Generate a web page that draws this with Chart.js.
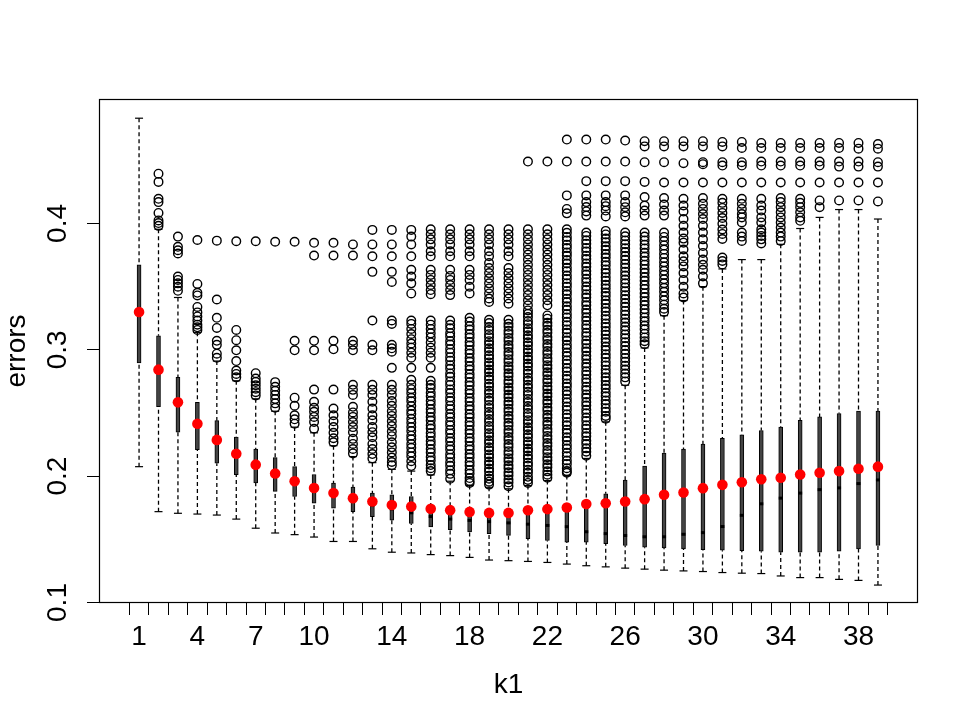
<!DOCTYPE html>
<html>
<head>
<meta charset="utf-8">
<script src="https://cdn.jsdelivr.net/npm/chart.js@4.4.1/dist/chart.umd.min.js"></script>
<style>
html,body{margin:0;padding:0;background:#fff;}
#wrap{width:969px;height:727px;position:relative;}
</style>
</head>
<body>
<div id="wrap"><canvas id="c"></canvas></div>
<script>
const categories = [1,2,3,4,5,6,7,8,9,10,11,12,13,14,15,16,17,18,19,20,21,22,23,24,25,26,27,28,29,30,31,32,33,34,35,36,37,38,39];
const xTickLabels = [1,4,7,10,14,18,22,26,30,34,38];
const yTickValues = [0.1,0.2,0.3,0.4];

const whiskerLow = [0.2075,0.1719,0.1706,0.1700,0.1692,0.1660,0.1588,0.1550,0.1537,0.1518,0.1483,0.1483,0.1425,0.1398,0.1392,0.1379,0.1371,0.1357,0.1336,0.1331,0.1325,0.1317,0.1304,0.1291,0.1282,0.1272,0.1264,0.1256,0.1250,0.1245,0.1237,0.1232,0.1229,0.1210,0.1197,0.1197,0.1183,0.1175,0.1138];
const boxLow = [0.2897,0.2549,0.2348,0.2209,0.2102,0.2011,0.1946,0.1880,0.1839,0.1786,0.1746,0.1719,0.1679,0.1652,0.1625,0.1598,0.1577,0.1558,0.1545,0.1531,0.1505,0.1491,0.1478,0.1478,0.1465,0.1451,0.1438,0.1432,0.1424,0.1418,0.1414,0.1410,0.1406,0.1398,0.1398,0.1398,0.1406,0.1424,0.1451];
const medians = [0.328,0.282,0.256,0.239,0.227,0.216,0.207,0.200,0.194,0.189,0.184,0.180,0.177,0.174,0.171,0.168,0.166,0.165,0.164,0.163,0.162,0.161,0.160,0.156,0.1545,0.153,0.152,0.152,0.154,0.1553,0.1601,0.1690,0.1781,0.1826,0.1866,0.1893,0.1907,0.1941,0.1970];
const boxHigh = [0.3673,0.3111,0.2782,0.2584,0.2439,0.2310,0.2214,0.2147,0.2075,0.2013,0.1946,0.1914,0.1866,0.1853,0.1839,0.1752,0.1745,0.1732,0.1724,0.1724,0.1745,0.1752,0.1768,0.1800,0.1861,0.1968,0.2080,0.2182,0.2214,0.2254,0.2300,0.2327,0.2361,0.2388,0.2442,0.2469,0.2495,0.2514,0.2514];
const whiskerHigh = [0.4833,0.3954,0.3414,0.3138,0.2911,0.2755,0.2612,0.2514,0.2388,0.2343,0.2241,0.2155,0.2107,0.2054,0.2040,0.2010,0.1960,0.1925,0.1912,0.1900,0.1925,0.1965,0.2005,0.2140,0.2430,0.2720,0.3015,0.3270,0.3390,0.3500,0.3640,0.3714,0.3714,0.3835,0.3960,0.4048,0.4110,0.4110,0.4035];
const means = [0.3299,0.2843,0.2584,0.2415,0.2287,0.2177,0.2091,0.2021,0.1960,0.1906,0.1866,0.1826,0.1799,0.1772,0.1759,0.1742,0.1731,0.1717,0.1709,0.1709,0.1730,0.1739,0.1752,0.1779,0.1786,0.1799,0.1818,0.1853,0.1871,0.1905,0.1931,0.1952,0.1976,0.1987,0.2013,0.2027,0.2040,0.2059,0.2075];

const outliers = [
 [],
 [0.4394,0.4329,0.4195,0.4169,0.4083,0.4024,0.4003,0.3981],
 [0.3896,0.3815,0.3788,0.3762,0.3580,0.3553,0.3526,0.3499,0.3467],
 [0.3869,0.3521,0.3451,0.3430,0.3339,0.3296,0.3264,0.3232,0.3199,0.3178,0.3157],
 [0.3864,0.3398,0.3253,0.3173,0.3071,0.3039,0.2969,0.2937],
 [0.3859,0.3157,0.3076,0.2996,0.2911,0.2836,0.2809,0.2782],
 [0.3859,0.2815,0.2772,0.2746,0.2719,0.2692,0.2665,0.2639],
 [0.3855,0.2744,0.2707,0.2675,0.2643,0.2610,0.2576,0.2541],
 [0.3855,0.3071,0.2996,0.2621,0.2557,0.2482,0.2450,0.2415],
 [0.3847,0.3746,0.3071,0.2996,0.2685,0.2589,0.2541,0.2509,0.2469,0.2428,0.2375],
 [0.3847,0.3746,0.3071,0.3004,0.2685,0.2535,0.2482,0.2434,0.2388,0.2343,0.2300,0.2268],
 [0.3834,0.3746,0.3071,0.3039,0.2996,0.2723,0.2683,0.2643,0.2549,0.2504,0.2469,0.2428,0.2388,0.2348,0.2295,0.2255,0.2215,0.2180],
 [0.3949,0.3834,0.3740,0.3617,0.3232,0.3039,0.2996,0.2723,0.2683,0.2643,0.2589,0.2535,0.2482,0.2442,0.2388,0.2348,0.2308,0.2255,0.2215,0.2175,0.2140],
 [0.3949,0.3834,0.3740,0.3617,0.3537,0.3232,0.3205,0.3039,0.3012,0.2985,0.2857,0.2723,0.2683,0.2643,0.2594,0.2557,0.2514,0.2477,0.2434,0.2396,0.2353,0.2316,0.2268,0.2228,0.2188,0.2147,0.2112,0.2086],
 [0.3949,0.3896,0.3834,0.3740,0.3633,0.3580,0.3526,0.3446,0.3232,0.3205,0.3165,0.3125,0.3084,0.3050,0.3017,0.2977,0.2937,0.2857,0.2763,
  0.2723,0.2688,0.2657,0.2620,0.2592,0.2555,0.2519,0.2491,0.2454,0.2423,0.2388,0.2357,0.2320,0.2292,0.2254,0.2224,0.2188,0.2157,0.2118,0.2080],
 [0.3954,0.3914,0.3874,0.3834,0.3780,0.3740,0.3633,0.3593,0.3553,0.3513,0.3473,0.3440,0.3232,0.3199,0.3165,0.3130,0.3098,0.3058,0.3017,0.2977,0.2937,0.2857,0.2755,
  0.2723,0.2697,0.2660,0.2632,0.2596,0.2567,0.2531,0.2503,0.2468,0.2440,0.2403,0.2377,0.2341,0.2314,0.2278,0.2250,0.2215,0.2187,0.2151,0.2124,0.2088,0.2063,0.2040],
 [0.3954,0.3914,0.3874,0.3834,0.3780,0.3740,0.3633,0.3585,0.3553,0.3513,0.3473,0.3433,
  0.3232,0.3198,0.3170,0.3133,0.3106,0.3069,0.3042,0.3006,0.2977,0.2942,0.2914,0.2878,0.2850,0.2813,0.2786,0.2750,0.2722,0.2686,0.2658,0.2622,0.2594,0.2558,0.2530,0.2494,0.2466,0.2430,0.2402,0.2366,0.2338,0.2302,0.2274,0.2238,0.2210,0.2174,0.2146,0.2110,0.2082,0.2046,0.2018,0.1979],
 [0.3954,0.3914,0.3874,0.3834,0.3780,0.3740,0.3633,0.3593,0.3553,0.3499,0.3446,
  0.3253,0.3224,0.3188,0.3160,0.3125,0.3097,0.3061,0.3034,0.2998,0.2970,0.2935,0.2907,0.2871,0.2844,0.2808,0.2780,0.2745,0.2717,0.2681,0.2654,0.2618,0.2590,0.2555,0.2527,0.2491,0.2464,0.2428,0.2400,0.2365,0.2337,0.2301,0.2274,0.2238,0.2210,0.2175,0.2147,0.2111,0.2084,0.2048,0.2020,0.1985,0.1962,0.1946],
 [0.3954,0.3914,0.3874,0.3834,0.3780,0.3740,0.3687,0.3647,0.3607,0.3566,0.3526,0.3486,0.3446,0.3406,0.3379,
  0.3237,0.3212,0.3180,0.3156,0.3124,0.3100,0.3068,0.3044,0.3012,0.2988,0.2956,0.2932,0.2900,0.2876,0.2844,0.2820,0.2788,0.2764,0.2732,0.2708,0.2676,0.2652,0.2620,0.2596,0.2564,0.2540,0.2508,0.2484,0.2452,0.2428,0.2396,0.2372,0.2340,0.2316,0.2284,0.2260,0.2228,0.2204,0.2172,0.2148,0.2116,0.2092,0.2060,0.2036,0.2004,0.1980,0.1956,0.1933],
 [0.3954,0.3914,0.3874,0.3834,0.3780,0.3740,0.3647,0.3607,0.3566,0.3526,0.3486,0.3446,0.3406,0.3365,
  0.3237,0.3206,0.3182,0.3150,0.3126,0.3094,0.3070,0.3038,0.3014,0.2982,0.2958,0.2926,0.2902,0.2870,0.2846,0.2814,0.2790,0.2758,0.2734,0.2702,0.2678,0.2646,0.2622,0.2590,0.2566,0.2534,0.2510,0.2478,0.2454,0.2422,0.2398,0.2366,0.2342,0.2310,0.2286,0.2254,0.2230,0.2198,0.2174,0.2142,0.2118,0.2086,0.2062,0.2030,0.2006,0.1974,0.1950,0.1920],
 [0.4490,0.3954,0.3914,0.3874,0.3834,0.3794,0.3754,0.3714,0.3673,0.3633,0.3593,0.3553,0.3513,0.3473,0.3433,0.3392,0.3352,0.3312,
  0.3285,0.3259,0.3227,0.3203,0.3171,0.3147,0.3115,0.3091,0.3059,0.3035,0.3003,0.2979,0.2947,0.2923,0.2891,0.2867,0.2835,0.2811,0.2779,0.2755,0.2723,0.2699,0.2667,0.2643,0.2611,0.2587,0.2555,0.2531,0.2499,0.2475,0.2443,0.2419,0.2387,0.2363,0.2331,0.2307,0.2275,0.2251,0.2219,0.2195,0.2163,0.2139,0.2107,0.2083,0.2051,0.2027,0.1995,0.1970,0.1946],
 [0.4490,0.3954,0.3914,0.3874,0.3834,0.3794,0.3754,0.3714,0.3673,0.3633,0.3593,0.3553,0.3513,0.3473,0.3433,0.3392,0.3352,
  0.3272,0.3246,0.3214,0.3190,0.3158,0.3134,0.3102,0.3078,0.3046,0.3022,0.2990,0.2966,0.2934,0.2910,0.2878,0.2854,0.2822,0.2798,0.2766,0.2742,0.2710,0.2686,0.2654,0.2630,0.2598,0.2574,0.2542,0.2518,0.2486,0.2462,0.2430,0.2406,0.2374,0.2350,0.2318,0.2294,0.2262,0.2238,0.2206,0.2182,0.2150,0.2126,0.2094,0.2070,0.2038,0.2012,0.1987],
 [0.4664,0.4490,0.4222,0.4115,0.4080,
  0.3954,0.3926,0.3893,0.3866,0.3832,0.3805,0.3771,0.3744,0.3710,0.3683,0.3649,0.3622,0.3588,0.3561,0.3527,0.3500,0.3466,0.3439,0.3405,0.3378,0.3344,0.3317,0.3283,0.3256,0.3222,0.3195,0.3161,0.3134,0.3100,0.3073,0.3039,0.3012,0.2978,0.2951,0.2917,0.2890,0.2856,0.2829,0.2795,0.2768,0.2734,0.2707,0.2673,0.2646,0.2612,0.2585,0.2551,0.2524,0.2490,0.2463,0.2429,0.2402,0.2368,0.2341,0.2307,0.2280,0.2246,0.2219,0.2185,0.2158,0.2124,0.2097,0.2063,0.2040,0.2027],
 [0.4664,0.4490,0.4335,0.4222,0.4169,0.4130,0.4095,0.4062,
  0.3928,0.3901,0.3867,0.3840,0.3806,0.3779,0.3745,0.3718,0.3684,0.3657,0.3623,0.3596,0.3562,0.3535,0.3501,0.3474,0.3440,0.3413,0.3379,0.3352,0.3318,0.3291,0.3257,0.3230,0.3196,0.3169,0.3135,0.3108,0.3074,0.3047,0.3013,0.2986,0.2952,0.2925,0.2891,0.2864,0.2830,0.2803,0.2769,0.2742,0.2708,0.2681,0.2647,0.2620,0.2586,0.2559,0.2525,0.2498,0.2464,0.2437,0.2403,0.2376,0.2342,0.2315,0.2281,0.2254,0.2220,0.2193,0.2161],
 [0.4664,0.4490,0.4335,0.4222,0.4169,0.4137,0.4102,0.4056,
  0.3941,0.3913,0.3880,0.3852,0.3819,0.3791,0.3758,0.3730,0.3697,0.3669,0.3636,0.3608,0.3575,0.3547,0.3514,0.3486,0.3453,0.3425,0.3392,0.3364,0.3331,0.3303,0.3270,0.3242,0.3209,0.3181,0.3148,0.3120,0.3087,0.3059,0.3026,0.2998,0.2965,0.2937,0.2904,0.2876,0.2843,0.2815,0.2782,0.2754,0.2721,0.2693,0.2660,0.2632,0.2599,0.2571,0.2538,0.2510,0.2477,0.2455],
 [0.4656,0.4490,0.4335,0.4222,0.4169,0.4129,0.4088,0.4056,
  0.3928,0.3898,0.3866,0.3836,0.3804,0.3774,0.3742,0.3712,0.3680,0.3650,0.3618,0.3588,0.3556,0.3526,0.3494,0.3464,0.3432,0.3402,0.3370,0.3340,0.3308,0.3278,0.3246,0.3216,0.3184,0.3154,0.3122,0.3092,0.3060,0.3030,0.2998,0.2968,0.2936,0.2906,0.2874,0.2844,0.2812,0.2782,0.2750],
 [0.4651,0.4610,0.4485,0.4329,0.4209,0.4142,0.4102,0.4062,
  0.3928,0.3896,0.3866,0.3832,0.3802,0.3768,0.3738,0.3704,0.3674,0.3640,0.3610,0.3576,0.3546,0.3512,0.3482,0.3448,0.3418,0.3384,0.3354,0.3320,0.3290,0.3256,0.3226,0.3192,0.3162,0.3128,0.3098,0.3068,0.3044],
 [0.4651,0.4610,0.4485,0.4324,0.4201,0.4150,0.4102,0.4062,
  0.3928,0.3893,0.3861,0.3826,0.3794,0.3759,0.3727,0.3692,0.3660,0.3625,0.3593,0.3558,0.3526,0.3491,0.3459,0.3424,0.3392,0.3357,0.3325,0.3299],
 [0.4651,0.4610,0.4477,0.4324,0.4195,0.4142,0.4094,0.4035,0.3981,0.3928,0.3880,0.3848,0.3794,0.3740,0.3700,0.3660,0.3607,0.3553,0.3499,0.3446,0.3414],
 [0.4651,0.4610,0.4485,0.4469,0.4324,0.4201,0.4155,0.4115,0.4075,0.4035,0.3981,0.3928,0.3874,0.3821,0.3767,0.3714,0.3673,0.3633,0.3580,0.3526],
 [0.4645,0.4610,0.4485,0.4458,0.4324,0.4195,0.4163,0.4123,0.4083,0.4043,0.3997,0.3952,0.3917,0.3877,0.3730,0.3703,0.3676],
 [0.4645,0.4597,0.4485,0.4458,0.4324,0.4195,0.4155,0.4115,0.4075,0.4048,0.4008,0.3928,0.3896,0.3861],
 [0.4637,0.4597,0.4490,0.4458,0.4324,0.4195,0.4142,0.4102,0.4048,0.4008,0.3954,0.3928,0.3901,0.3874,0.3842],
 [0.4637,0.4597,0.4490,0.4458,0.4324,0.4201,0.4169,0.4129,0.4088,0.4048,0.4008,0.3968,0.3928,0.3896,0.3861],
 [0.4637,0.4597,0.4490,0.4458,0.4324,0.4195,0.4163,0.4129,0.4088,0.4048,0.4021],
 [0.4637,0.4597,0.4490,0.4458,0.4324,0.4182,0.4129],
 [0.4637,0.4597,0.4490,0.4450,0.4324,0.4182],
 [0.4637,0.4592,0.4490,0.4450,0.4324,0.4182],
 [0.4629,0.4592,0.4485,0.4450,0.4324,0.4174]
];

// ---- build library datasets from the arrays ----
const whiskerData = [];
categories.forEach((k, i) => {
  whiskerData.push({x:k, y:whiskerLow[i]}, {x:k, y:boxLow[i]}, {x:k, y:null});
  whiskerData.push({x:k, y:whiskerHigh[i]}, {x:k, y:boxHigh[i]}, {x:k, y:null});
});
const stapleData = [];
categories.forEach((k, i) => {
  stapleData.push({x:k, y:whiskerLow[i]}, {x:k, y:whiskerHigh[i]});
});
const boxData = categories.map((k, i) => ({x:k, y:[boxLow[i], boxHigh[i]]}));
const medianData = categories.map((k, i) => ({x:k, y:medians[i]}));
const outlierData = [];
categories.forEach((k, i) => outliers[i].forEach(v => outlierData.push({x:k, y:v})));
const meanData = categories.map((k, i) => ({x:k, y:means[i]}));

const FONT = "'Liberation Sans', Arial, Helvetica, sans-serif";

const framePlugin = {
  id: 'frame',
  afterDraw(chart) {
    const {ctx, chartArea: a} = chart;
    ctx.save();
    ctx.strokeStyle = '#000';
    ctx.lineWidth = 1.2;
    ctx.strokeRect(Math.round(a.left) + 0.5, Math.round(a.top) + 0.5,
                   Math.round(a.right) - Math.round(a.left) - 1, Math.round(a.bottom) - Math.round(a.top) - 1);
    ctx.restore();
  }
};

new Chart(document.getElementById('c'), {
  type: 'scatter',
  data: {
    datasets: [
      { type:'line', label:'whiskers', data: whiskerData, showLine:true, spanGaps:false,
        borderColor:'#000', borderWidth:1.3, borderDash:[4,3], pointRadius:0, fill:false, order:6 },
      { type:'scatter', label:'staples', data: stapleData, pointStyle:'line', pointRadius:4,
        borderColor:'#000', borderWidth:1.2, order:5 },
      { type:'bar', label:'boxes', data: boxData, barThickness:4, backgroundColor:'#444444',
        borderColor:'#000', borderWidth:1, borderSkipped:false, order:4 },
      { type:'scatter', label:'medians', data: medianData, pointStyle:'line', pointRadius:2,
        borderColor:'#000', borderWidth:3, order:3 },
      { type:'scatter', label:'outliers', data: outlierData, pointStyle:'circle', pointRadius:4.3,
        borderColor:'#000', borderWidth:1.4, backgroundColor:'rgba(0,0,0,0)', order:2 },
      { type:'scatter', label:'means', data: meanData, pointStyle:'circle', pointRadius:5.3,
        borderWidth:0, backgroundColor:'#ff0000', borderColor:'#ff0000', order:1 }
    ]
  },
  options: {
    responsive: true,
    maintainAspectRatio: false,
    animation: false,
    events: [],
    layout: { padding: { top: 99, right: 51, bottom: 0, left: 0 } },
    plugins: { legend: { display:false }, tooltip: { enabled:false } },
    scales: {
      x: {
        type: 'linear', min: -1.06, max: 41.06, offset: false,
        afterBuildTicks: (s) => { s.ticks = categories.map(v => ({value: v})); },
        afterFit: (s) => { s.height = 124; },
        ticks: { autoSkip:false, maxRotation:0, minRotation:0, padding:5, color:'#000',
                 font:{ family: FONT, size: 28 },
                 callback: (v) => xTickLabels.includes(v) ? String(v) : '' },
        grid: { display:true, drawOnChartArea:false, drawTicks:true, tickLength:12, color:'#000', lineWidth:1 },
        border: { display:false },
        title: { display:true, text:'k1', color:'#000', font:{ family: FONT, size: 28 }, padding:{top:0, bottom:25} }
      },
      y: {
        type: 'linear', min: 0.0996, max: 0.4985,
        afterBuildTicks: (s) => { s.ticks = yTickValues.map(v => ({value: v})); },
        afterFit: (s) => { s.width = 99; },
        ticks: { minRotation:90, maxRotation:90, crossAlign:'center', padding:9, color:'#000',
                 font:{ family: FONT, size: 28 },
                 callback: (v) => v.toFixed(1) },
        grid: { display:true, drawOnChartArea:false, drawTicks:true, tickLength:12, color:'#000', lineWidth:1 },
        border: { display:false },
        title: { display:true, text:'errors', color:'#000', font:{ family: FONT, size: 28 }, padding:{top:0, bottom:0} }
      }
    }
  },
  plugins: [framePlugin]
});
</script>
</body>
</html>
